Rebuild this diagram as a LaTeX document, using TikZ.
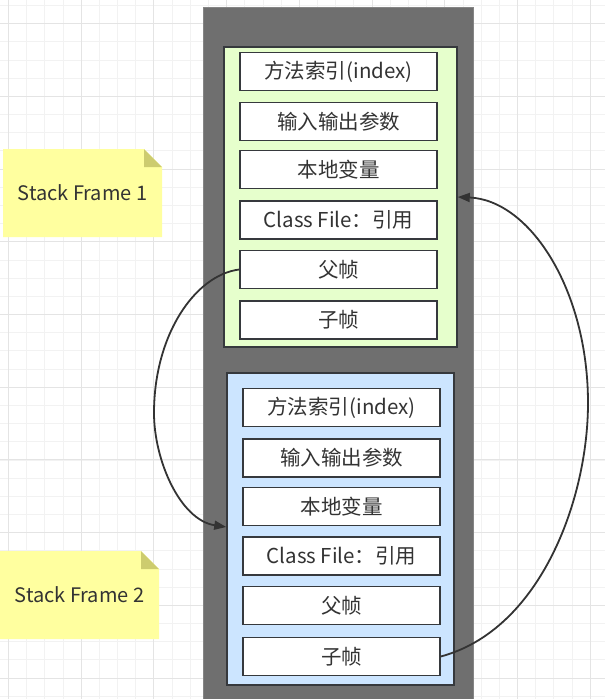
\documentclass[tikz,border=0pt]{standalone}
\usepackage{fontspec}
\setmainfont{Noto Sans CJK SC}
\usetikzlibrary{arrows.meta}
\definecolor{txt}{HTML}{333333}
\definecolor{edge}{HTML}{36393D}
\definecolor{colfill}{HTML}{6F6F6F}
\definecolor{colline}{HTML}{858585}
\definecolor{greenfill}{HTML}{E6FFCC}
\definecolor{bluefill}{HTML}{CCE5FF}
\definecolor{notefill}{HTML}{FFFF9F}
\definecolor{notefold}{HTML}{CDCC6F}
\definecolor{minorgrid}{HTML}{F2F2F2}
\definecolor{majorgrid}{HTML}{E4E4E4}
\tikzset{
  cell/.style={draw=edge, line width=1.5pt, fill=white, minimum width=197pt, minimum height=38pt, inner sep=0pt, text=txt, font=\fontsize{20.5}{24}\selectfont},
  framebox/.style={draw=edge, line width=1.5pt, inner sep=0pt},
  notetext/.style={text=txt, font=\fontsize{20}{24}\selectfont, inner sep=0pt},
  conn/.style={draw=txt, line width=1.8pt, -{Triangle[length=12pt,width=9pt]}},
  mingrid/.style={draw=minorgrid, line width=0.8pt},
  majgrid/.style={draw=majorgrid, line width=1pt}
}
\begin{document}
\begin{tikzpicture}[x=1pt,y=-1pt]
\useasboundingbox (0,0) rectangle (605,699);
\fill[white] (0,0) rectangle (605,699);
% grid
\foreach \i in {0,...,33} {
  \draw[mingrid] ({8.4+18.18*\i},0) -- ({8.4+18.18*\i},699);
}
\foreach \i in {0,...,38} {
  \draw[mingrid] (0,{5.4+18.18*\i}) -- (605,{5.4+18.18*\i});
}
\foreach \i in {0,...,8} {
  \draw[majgrid] ({8.4+72.72*\i},0) -- ({8.4+72.72*\i},699);
}
\foreach \i in {0,...,9} {
  \draw[majgrid] (0,{23.6+72.72*\i}) -- (605,{23.6+72.72*\i});
}
% gray column
\node[draw=colline, line width=1pt, fill=colfill, minimum width=270pt, minimum height=700pt, inner sep=0pt, anchor=north west] (col) at (203,7) {};
% frames
\node[framebox, fill=greenfill, minimum width=233pt, minimum height=300pt] (gf) at (340.5,197) {};
\node[framebox, fill=bluefill, minimum width=227pt, minimum height=312pt] (bf) at (340.5,529) {};
% green cells
\node[cell] (g1) at (338.5,71.5) {方法索引(index)};
\node[cell] (g2) at (338.5,121.5) {输入输出参数};
\node[cell] (g3) at (338.5,169.5) {本地变量};
\node[cell] (g4) at (338.5,220) {Class File：引用};
\node[cell] (g5) at (338.5,269.5) {父帧};
\node[cell] (g6) at (338.5,320) {子帧};
% blue cells
\node[cell] (b1) at (341.5,407.5) {方法索引(index)};
\node[cell] (b2) at (341.5,458) {输入输出参数};
\node[cell] (b3) at (341.5,506.5) {本地变量};
\node[cell] (b4) at (341.5,556) {Class File：引用};
\node[cell] (b5) at (341.5,605.5) {父帧};
\node[cell] (b6) at (341.5,656.5) {子帧};
% sticky notes
\fill[notefill] (3,149) -- (144,149) -- (162,167) -- (162,237) -- (3,237) -- cycle;
\fill[notefold] (144,149) -- (162,167) -- (144,167) -- cycle;
\node[notetext] (n1) at (82.5,193) {Stack Frame 1};
\fill[notefill] (0,551) -- (141,551) -- (159,569) -- (159,639) -- (0,639) -- cycle;
\fill[notefold] (141,551) -- (159,569) -- (141,569) -- cycle;
\node[notetext] (n2) at (79.5,595) {Stack Frame 2};
% connectors
\coordinate (e1) at (bf.west |- 0,527);
\coordinate (e2) at (gf.east |- 0,197);
\draw[conn] (g5.west) .. controls (195,275) and (154,335) .. (154,413)
  .. controls (154,460) and (180,520) .. (e1);
\draw[conn] (b6.east) .. controls (540,630) and (588,500) .. (588,403)
  .. controls (588,290) and (530,200) .. (e2);
\end{tikzpicture}
\end{document}
